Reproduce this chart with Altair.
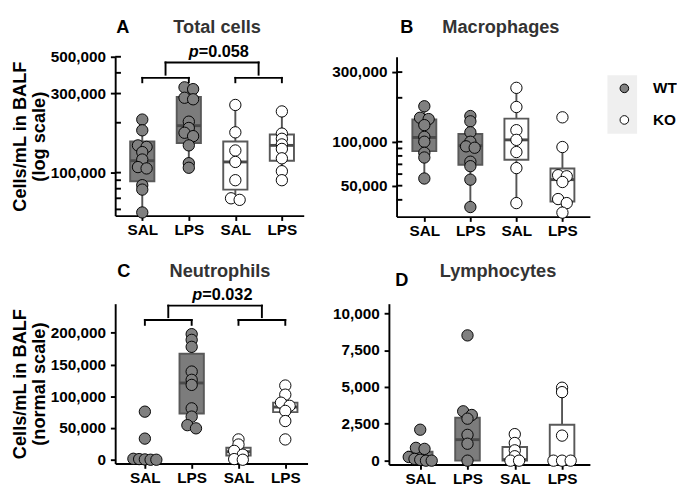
import math
import altair as alt
import pandas as pd

FONT = "Liberation Sans"

# ---------------- shared categories ----------------
GROUP_POS = [1, 2, 3, 4]
GROUP_GENO = ["WT", "WT", "KO", "KO"]
GROUP_LABELS = ["SAL", "LPS", "SAL", "LPS"]
GENO_DOMAIN = ["WT", "KO"]
GENO_FILL = ["#808080", "#ffffff"]

# ---------------- Panel A : Total cells (log) ----------------
A_points = [
    [209000, 180000, 146000, 143000, 133000, 120000, 108000, 106000, 84000, 79000, 57500],
    [327000, 319000, 283000, 277000, 203000, 186000, 174000, 166000, 146000, 114000, 107000],
    [256000, 175000, 136000, 116000, 90000, 70000, 68500],
    [234000, 172000, 160000, 148000, 139000, 122000, 102000, 90000],
]
A_q1 = [88700, 151000, 79000, 118000]
A_med = [118000, 192000, 116000, 146000]
A_q3 = [154000, 286000, 154000, 170000]
A_wlo = [57500, 107000, 68500, 90000]
A_whi = [209000, 327000, 256000, 234000]
A_ticks = [100000, 300000, 500000]
A_minor = [60000, 70000, 80000, 90000, 100000, 200000, 300000, 400000, 500000]

# ---------------- Panel B : Macrophages (log) ----------------
B_points = [
    [175000, 146000, 143000, 130000, 108000, 100000, 84000, 78000, 56000],
    [150000, 138000, 116000, 100000, 93000, 91000, 73000, 68000, 55000, 35700],
    [234000, 173000, 120000, 103000, 85000, 66000, 38000],
    [147000, 92000, 59000, 58000, 53000, 40500, 38000, 32700],
]
B_q1 = [86300, 69500, 75300, 39000]
B_med = [107000, 94000, 103000, 55000]
B_q3 = [142000, 113000, 144000, 65500]
B_wlo = [56000, 35700, 38000, 32700]
B_whi = [175000, 150000, 234000, 92000]
B_ticks = [50000, 100000, 300000]
B_minor = [40000, 50000, 60000, 70000, 80000, 90000, 100000, 200000, 300000]

# ---------------- Panel C : Neutrophils (linear) ----------------
C_points = [
    [75800, 33300, 1500, 1000, 500, 0, 0],
    [198000, 189000, 178000, 139000, 126000, 118000, 81000, 68000, 54500, 49500],
    [32000, 24000, 14000, 8000, 1000, 0],
    [117000, 102600, 90000, 85000, 77000, 61000, 32000],
]
C_q1 = [0, 73000, 6700, 75000]
C_med = [0, 121000, 12700, 83000]
C_q3 = [1200, 167000, 19000, 90000]
C_wlo = [0, 49500, 0, 61000]
C_whi = [1500, 198000, 32000, 117000]
C_ticks = [0, 50000, 100000, 150000, 200000]

# ---------------- Panel D : Lymphocytes (linear) ----------------
D_points = [
    [2100, 870, 800, 250, 120, 60, 0, 0],
    [8500, 3350, 3100, 2850, 1750, 1150, 0],
    [1800, 1200, 700, 300, 0, 0],
    [4950, 4650, 1700, 0, 0, 0],
]
D_q1 = [0, 0, 0, 0]
D_med = [50, 1425, 70, 50]
D_q3 = [608, 2915, 930, 2440]
D_wlo = [0, 0, 0, 0]
D_whi = [900, 3350, 1800, 4650]
D_ticks = [0, 2500, 5000, 7500, 10000]

# ---------------- annotations ----------------
A_brackets = [  # x1, x2, y1, y2
    (1, 2, 373000, 373000), (1, 1, 351000, 373000), (2, 2, 351000, 373000),
    (3, 4, 373000, 373000), (3, 3, 351000, 373000), (4, 4, 351000, 373000),
    (1.5, 3.5, 462000, 462000), (1.5, 1.5, 390000, 462000), (3.5, 3.5, 390000, 462000),
]
C_brackets = [
    (1, 2, 220300, 220300), (1, 1, 212700, 220300), (2, 2, 212700, 220300),
    (3, 4, 220300, 220300), (3, 3, 212700, 220300), (4, 4, 212700, 220300),
    (1.5, 3.5, 243000, 243000), (1.5, 1.5, 224800, 243000), (3.5, 3.5, 224800, 243000),
]

BOX_HALF = 0.26
WHISK = "#555555"
BOX_STROKE = "#595959"
MED_COLOR = "#4a4a4a"

label_expr = "[''," + ",".join("'%s'" % s for s in GROUP_LABELS) + "][datum.value]"

fill_scale = alt.Scale(domain=GENO_DOMAIN, range=GENO_FILL)


def make_legend():
    return alt.Legend(
        title=None, orient="none", legendX=230, legendY=25, symbolType="circle",
        symbolSize=81, symbolStrokeColor="black", symbolStrokeWidth=1,
        labelFont=FONT, labelFontSize=16, labelFontWeight="bold", labelColor="black",
        labelOffset=22, rowPadding=17, padding=0, zindex=1,
    )


def to_px_factory(stype, dom, H):
    if stype == "log":
        l0, l1 = math.log10(dom[0]), math.log10(dom[1])
        return lambda v: H * (l1 - math.log10(v)) / (l1 - l0)
    return lambda v: H * (dom[1] - v) / (dom[1] - dom[0])


def swarm_offsets(vals, to_px, unit_px, thresh=4.5, gap=9.0, maxw=24.0):
    ys = [to_px(v) for v in vals]
    order = sorted(range(len(vals)), key=lambda i: ys[i])
    clusters = []
    for i in order:
        if clusters and ys[i] - ys[clusters[-1][0]] <= thresh:
            clusters[-1].append(i)
        else:
            clusters.append([i])
    offs = [0.0] * len(vals)
    for c in clusters:
        k = len(c)
        if k == 1:
            continue
        sp = min(gap, maxw / (k - 1))
        for j, i in enumerate(c):
            offs[i] = (j - (k - 1) / 2) * sp / unit_px
    return offs


def make_panel(p):
    W, H = p["w"], p["h"]
    stype = p["stype"]
    if stype == "log":
        ysc = alt.Scale(type="log", domain=p["ydom"], nice=False)
    else:
        ysc = alt.Scale(type="linear", domain=p["ydom"], nice=False, zero=False)
    xsc = alt.Scale(domain=p["xdom"], nice=False, zero=False)
    ax_common = dict(labelFont=FONT, labelFontSize=16, labelFontWeight="bold",
                     labelColor="black", tickColor="black", tickWidth=2, tickSize=5,
                     domainColor="black", domainWidth=2, grid=False, labelOverlap=False)
    yaxis = alt.Axis(values=p["ticks"], format=",.0f", labelPadding=5,
                     title=p["ytitle"], titleFont=FONT, titleFontSize=19,
                     titleFontWeight="bold", titleColor="black", titleLineHeight=20,
                     titlePadding=2, **ax_common)
    xaxis = alt.Axis(values=GROUP_POS, labelExpr=label_expr, title=None,
                     labelPadding=2, **ax_common)

    def X(f):
        return alt.X(f + ":Q", scale=xsc, axis=xaxis)

    def Y(f):
        return alt.Y(f + ":Q", scale=ysc, axis=yaxis)

    to_px = to_px_factory(stype, p["ydom"], H)
    unit_px = W / (p["xdom"][1] - p["xdom"][0])
    rows = []
    for pos, geno, vals in zip(GROUP_POS, GROUP_GENO, p["points"]):
        offs = swarm_offsets(vals, to_px, unit_px)
        for v, o in zip(vals, offs):
            rows.append({"pos": pos, "genotype": geno, "val": v, "xj": pos + o})
    pts = pd.DataFrame(rows)
    box = pd.DataFrame({"pos": GROUP_POS, "genotype": GROUP_GENO, "q1": p["q1"],
                        "med": p["med"], "q3": p["q3"], "wlo": p["wlo"], "whi": p["whi"]})

    layers = []
    layers.append(alt.Chart(box).mark_rule(color=WHISK, strokeWidth=2).encode(
        x=X("pos"), y=Y("wlo"), y2=alt.Y2("whi")))
    for geno, fill in zip(GENO_DOMAIN, ["#7c7c7c", "#ffffff"]):
        layers.append(alt.Chart(box).transform_filter(
            "datum.genotype == '%s'" % geno).transform_calculate(
            xl="datum.pos - %f" % BOX_HALF, xr="datum.pos + %f" % BOX_HALF
        ).mark_rect(fill=fill, stroke=BOX_STROKE, strokeWidth=2).encode(
            x=X("xl"), x2=alt.X2("xr"), y=Y("q1"), y2=alt.Y2("q3")))
    layers.append(alt.Chart(box).transform_calculate(
        xl="datum.pos - %f" % BOX_HALF, xr="datum.pos + %f" % BOX_HALF
    ).mark_rule(color=MED_COLOR, strokeWidth=3).encode(
        x=X("xl"), x2=alt.X2("xr"), y=Y("med")))
    if p.get("legend_box"):
        lb = pd.DataFrame({"k": [0]})
        x0, x1, y0, y1 = p["legend_box"]
        layers.append(alt.Chart(lb).mark_rect(color="#efefef").encode(
            x=alt.value(x0), x2=alt.value(x1), y=alt.value(y0), y2=alt.value(y1)))
    fill_enc = alt.Fill("genotype:N", scale=fill_scale,
                        legend=make_legend() if p.get("legend") else None)
    layers.append(alt.Chart(pts).mark_circle(size=140, stroke="black", strokeWidth=1,
                                             opacity=1).encode(
        x=X("xj"), y=Y("val"), fill=fill_enc))
    if p.get("minor"):
        mt = pd.DataFrame({"t": p["minor"]})
        layers.append(alt.Chart(mt).mark_rule(color="black", strokeWidth=2).encode(
            x=alt.value(0), x2=alt.value(6), y=Y("t")))
    if p.get("brackets"):
        bd = pd.DataFrame(p["brackets"], columns=["bx1", "bx2", "by1", "by2"])
        layers.append(alt.Chart(bd).mark_rule(color="black", strokeWidth=2,
                                              strokeCap="square").encode(
            x=X("bx1"), x2=alt.X2("bx2"), y=Y("by1"), y2=alt.Y2("by2")))
        pt = pd.DataFrame({"px": [2.5], "py": [p["ptext_y"]]})
        layers.append(alt.Chart(pt).mark_text(
            text="p", font=FONT, fontSize=17, fontWeight="bold", fontStyle="italic",
            align="right", baseline="alphabetic", dx=p["ptext_dx"], color="black"
        ).encode(x=X("px"), y=Y("py")))
        layers.append(alt.Chart(pt).mark_text(
            text=p["ptext"], font=FONT, fontSize=17, fontWeight="bold",
            align="left", baseline="alphabetic", dx=p["ptext_dx"], color="black"
        ).encode(x=X("px"), y=Y("py")))
    td = pd.DataFrame({"k": [0]})
    layers.append(alt.Chart(td).mark_text(
        text=p["letter"], font=FONT, fontSize=19, fontWeight="bold", color="black",
        align="center", baseline="alphabetic").encode(
        x=alt.value(p["letter_xy"][0]), y=alt.value(p["letter_xy"][1])))
    layers.append(alt.Chart(td).mark_text(
        text=p["title"], font=FONT, fontSize=19, fontWeight="bold", color="#333333",
        align="center", baseline="alphabetic").encode(
        x=alt.value(p["title_xy"][0]), y=alt.value(p["title_xy"][1])))
    return alt.layer(*layers).properties(width=W, height=H)


pA = dict(w=197, h=166, stype="log", ydom=[55000, 500000], xdom=[0.418, 4.47],
          points=A_points, q1=A_q1, med=A_med, q3=A_q3, wlo=A_wlo, whi=A_whi,
          ticks=A_ticks, minor=A_minor, ytitle=["Cells/mL in BALF", "(log scale)"],
          brackets=A_brackets, ptext="=0.058", ptext_y=500000, ptext_dx=-14,
          letter="A", letter_xy=(8, -25), title="Total cells", title_xy=(106.5, -25))
pB = dict(w=202, h=167, stype="log", ydom=[30700, 382000], xdom=[0.397, 4.597],
          points=B_points, q1=B_q1, med=B_med, q3=B_q3, wlo=B_wlo, whi=B_whi,
          ticks=B_ticks, minor=B_minor, ytitle=None, legend=True,
          legend_box=(220.3, 251.3, 19.3, 80.3),
          letter="B", letter_xy=(10.8, -24.4), title="Macrophages", title_xy=(109, -24.4))
pC = dict(w=201, h=167, stype="linear", ydom=[-6000, 246000], xdom=[0.366, 4.476],
          points=C_points, q1=C_q1, med=C_med, q3=C_q3, wlo=C_wlo, whi=C_whi,
          ticks=C_ticks, ytitle=["Cells/mL in BALF", "(normal scale)"],
          brackets=C_brackets, ptext="=0.032", ptext_y=251500, ptext_dx=-13.4,
          letter="C", letter_xy=(9, -28.3), title="Neutrophils", title_xy=(109.5, -28.3))
pD = dict(w=210, h=168, stype="linear", ydom=[-260, 10650], xdom=[0.338, 4.589],
          points=D_points, q1=D_q1, med=D_med, q3=D_q3, wlo=D_wlo, whi=D_whi,
          ticks=D_ticks, ytitle=None,
          letter="D", letter_xy=(13.5, -18.7), title="Lymphocytes", title_xy=(114, -28.3))

row1 = alt.hconcat(make_panel(pA), make_panel(pB), spacing=29).resolve_scale(fill="independent")
row2 = alt.hconcat(make_panel(pC), make_panel(pD), spacing=26).resolve_scale(fill="independent")
chart = alt.vconcat(row1, row2, spacing=24).resolve_scale(fill="independent").properties(
    padding={"left": 3, "top": 0, "right": 0, "bottom": 0}).configure_view(stroke=None)

chart.save("out.html", embed_options={"renderer": "svg", "actions": False})
